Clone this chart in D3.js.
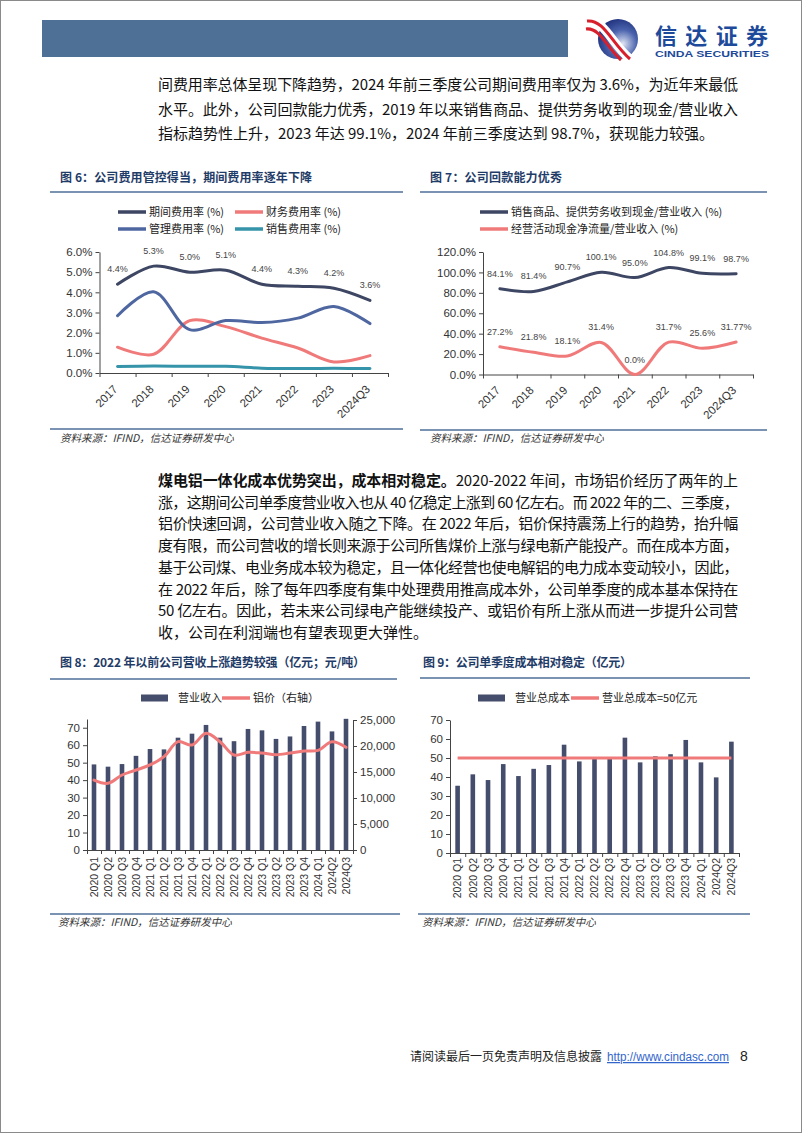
<!DOCTYPE html>
<html>
<head>
<meta charset="utf-8">
<script src="https://cdn.jsdelivr.net/npm/d3@7"></script>
<style>
body { margin: 0; background: #fff; }
svg { display: block; font-family: "Liberation Sans", Arial, "Noto Sans CJK SC", sans-serif; }
.cn { font-family: "Noto Sans CJK SC", sans-serif; }
</style>
</head>
<body>
<svg width="802" height="1133"></svg>
<script>
// ---- data ----
var years = ['2017', '2018', '2019', '2020', '2021', '2022', '2023', '2024Q3'];
var periodRate = [4.4, 5.3, 5.0, 5.1, 4.4, 4.3, 4.2, 3.6];
var financeRate = [1.28, 0.93, 2.6, 2.3, 1.73, 1.24, 0.55, 0.86];
var mgmtRate = [2.84, 4.03, 2.15, 2.6, 2.5, 2.72, 3.3, 2.45];
var salesRate = [0.32, 0.35, 0.33, 0.33, 0.24, 0.22, 0.23, 0.22];
var periodLabels = ['4.4%', '5.3%', '5.0%', '5.1%', '4.4%', '4.3%', '4.2%', '3.6%'];

var cashRatio = [84.1, 81.4, 90.7, 100.1, 95.0, 104.8, 99.1, 98.7];
var opCashRatio = [27.2, 21.8, 18.1, 31.4, 0.0, 31.7, 25.6, 31.77];
var cashLabels = ['84.1%', '81.4%', '90.7%', '100.1%', '95.0%', '104.8%', '99.1%', '98.7%'];
var opCashLabels = ['27.2%', '21.8%', '18.1%', '31.4%', '0.0%', '31.7%', '25.6%', '31.77%'];

var quarters = ['2020 Q1', '2020 Q2', '2020 Q3', '2020 Q4', '2021 Q1', '2021 Q2', '2021 Q3', '2021 Q4',
  '2022 Q1', '2022 Q2', '2022 Q3', '2022 Q4', '2023 Q1', '2023 Q2', '2023 Q3', '2023 Q4',
  '2024 Q1', '2024Q2', '2024Q3'];
var revenue = [49.0, 47.7, 49.2, 53.9, 57.8, 57.6, 64.3, 66.6, 71.6, 64.3, 62.3, 69.3, 68.5, 63.6, 65.0, 71.0, 73.5, 67.9, 75.1];
var alPrice = [13460, 12820, 14420, 15380, 16350, 17950, 20830, 20190, 22440, 20830, 18270, 18780, 18650, 18330, 18650, 19040, 19170, 20830, 19740];
var totalCost = [35.4, 41.4, 38.4, 46.8, 40.5, 44.3, 46.3, 57.0, 48.2, 49.5, 49.5, 60.7, 47.7, 50.9, 52.0, 59.5, 47.7, 39.8, 58.6];
var costRef = 50;

var topText = [
  '间费用率总体呈现下降趋势，2024 年前三季度公司期间费用率仅为 3.6%，为近年来最低',
  '水平。此外，公司回款能力优秀，2019 年以来销售商品、提供劳务收到的现金/营业收入',
  '指标趋势性上升，2023 年达 99.1%，2024 年前三季度达到 98.7%，获现能力较强。'
];
var midBold = '煤电铝一体化成本优势突出，成本相对稳定。';
var midText = [
  '2020-2022 年间，市场铝价经历了两年的上',
  '涨，这期间公司单季度营业收入也从 40 亿稳定上涨到 60 亿左右。而 2022 年的二、三季度，',
  '铝价快速回调，公司营业收入随之下降。在 2022 年后，铝价保持震荡上行的趋势，抬升幅',
  '度有限，而公司营收的增长则来源于公司所售煤价上涨与绿电新产能投产。而在成本方面，',
  '基于公司煤、电业务成本较为稳定，且一体化经营也使电解铝的电力成本变动较小，因此，',
  '在 2022 年后，除了每年四季度有集中处理费用推高成本外，公司单季度的成本基本保持在',
  '50 亿左右。因此，若未来公司绿电产能继续投产、或铝价有所上涨从而进一步提升公司营',
  '收，公司在利润端也有望表现更大弹性。'
];

var navy = '#3d4663', pink = '#f07a7a', blue = '#4f67a0', teal = '#3594a9', barColor = '#444d6b';
var titleColor = '#1f3c68', ruleColor = '#4e6f98';

var svg = d3.select('svg');

// page frame + header
svg.append('rect').attr('x', 0.5).attr('y', 0.5).attr('width', 801).attr('height', 1132)
  .attr('fill', '#fff').attr('stroke', '#8a8a8a');
svg.append('rect').attr('x', 42).attr('y', 20).attr('width', 526).attr('height', 37).attr('fill', '#4e7097');

var defs = svg.append('defs');
var grad = defs.append('radialGradient').attr('id', 'ball').attr('cx', '62%').attr('cy', '62%').attr('r', '70%');
grad.append('stop').attr('offset', '0%').attr('stop-color', '#dfe5f3');
grad.append('stop').attr('offset', '50%').attr('stop-color', '#4a63ad');
grad.append('stop').attr('offset', '100%').attr('stop-color', '#1b2c78');
svg.append('circle').attr('cx', 618).attr('cy', 39).attr('r', 20).attr('fill', 'url(#ball)');
svg.append('path').attr('d', 'M587,21 C604,19 612,44 630,59').attr('fill', 'none').attr('stroke', '#fff').attr('stroke-width', 9);
svg.append('path').attr('d', 'M587,21 C604,19 612,44 630,59').attr('fill', 'none').attr('stroke', '#d81f2c').attr('stroke-width', 3);
svg.append('path').attr('d', 'M586,29 C600,27 607,48 621,60').attr('fill', 'none').attr('stroke', '#d81f2c').attr('stroke-width', 3);
svg.append('text').attr('class', 'cn').attr('x', 655).attr('y', 44).attr('font-size', 22).attr('font-weight', 700)
  .attr('fill', '#1d4a9a').attr('textLength', 113).text('信达证券');
svg.append('text').attr('x', 655).attr('y', 57).attr('font-size', 9).attr('font-weight', 700)
  .attr('fill', '#1d4a9a').attr('textLength', 114).attr('lengthAdjust', 'spacingAndGlyphs').text('CINDA SECURITIES');

// ---- paragraphs ----
function justify(t, w) {
  var len = t.node().getComputedTextLength();
  var n = t.text().length;
  t.attr('letter-spacing', (w - len) / n);
}
topText.forEach(function (s, i) {
  var t = svg.append('text').attr('class', 'cn').attr('x', 158).attr('y', 90 + i * 24.5)
    .attr('font-size', 15).attr('fill', '#111').text(s);
  if (i < topText.length - 1) justify(t, 580);
});
midText.forEach(function (s, i) {
  var t = svg.append('text').attr('class', 'cn').attr('x', 158).attr('y', 486 + i * 21.7)
    .attr('font-size', 15).attr('fill', '#111');
  if (i === 0) t.append('tspan').attr('font-weight', 700).text(midBold);
  t.append('tspan').text(s);
  if (i < midText.length - 1) justify(t, 580);
});

// ---- frame pieces ----
function title(x, y, s, w) {
  svg.append('text').attr('class', 'cn').attr('x', x).attr('y', y + 4).attr('font-size', 12)
    .attr('font-weight', 700).attr('fill', titleColor).attr('textLength', w).text(s);
}
function rule(x1, x2, y) {
  svg.append('line').attr('x1', x1).attr('x2', x2).attr('y1', y).attr('y2', y)
    .attr('stroke', ruleColor).attr('stroke-width', 1.5);
}
function source(x, y) {
  svg.append('text').attr('class', 'cn').attr('x', x).attr('y', y + 4).attr('font-size', 10.5)
    .attr('font-style', 'italic').attr('fill', '#333').text('资料来源：IFIND，信达证券研发中心');
}
title(60, 178, '图 6：公司费用管控得当，期间费用率逐年下降', 252);
title(430, 178, '图 7：公司回款能力优秀', 132);
title(60, 663, '图 8：2022 年以前公司营收上涨趋势较强（亿元；元/吨）', 305);
title(423, 663, '图 9：公司单季度成本相对稳定（亿元）', 209);
rule(50, 403, 192); rule(420, 767, 192); rule(50, 397, 679); rule(420, 750, 678);
rule(50, 403, 429); rule(420, 767, 430); rule(50, 400, 914); rule(418, 750, 914);
source(60, 438); source(430, 438); source(58, 922); source(422, 922);

// ---- helpers ----
function styleAxis(g) {
  g.attr('font-family', '"Liberation Sans", Arial, sans-serif').attr('font-size', 11.5);
  g.selectAll('.domain').attr('stroke', '#444');
  g.selectAll('.tick line').attr('stroke', '#444');
  g.selectAll('.tick text').attr('fill', '#333');
}
function bandTicks(scale, y) {
  var n = scale.domain().length;
  var lin = d3.scaleLinear().domain([0, n]).range(scale.range());
  svg.append('g').attr('transform', 'translate(0,' + y + ')')
    .call(d3.axisBottom(lin).tickValues(d3.range(n + 1)).tickFormat('').tickSize(4).tickSizeOuter(0))
    .call(styleAxis);
}
function legendLine(x, y, color, label) {
  svg.append('line').attr('x1', x).attr('x2', x + 28).attr('y1', y).attr('y2', y)
    .attr('stroke', color).attr('stroke-width', 3.5);
  svg.append('text').attr('class', 'cn').attr('x', x + 31).attr('y', y + 4).attr('font-size', 11)
    .attr('fill', '#222').text(label);
}
function legendBox(x, y, label) {
  svg.append('rect').attr('x', x).attr('y', y - 3.5).attr('width', 27).attr('height', 7).attr('fill', barColor);
  svg.append('text').attr('class', 'cn').attr('x', x + 37).attr('y', y + 4).attr('font-size', 11)
    .attr('fill', '#222').text(label);
}
function drawLine(xs, ys, cats, vals, color) {
  var ln = d3.line()
    .x(function (d, i) { return xs(cats[i]) + xs.bandwidth() / 2; })
    .y(function (d) { return ys(d); })
    .curve(d3.curveCatmullRom.alpha(0.5));
  svg.append('path').attr('d', ln(vals)).attr('fill', 'none').attr('stroke', color)
    .attr('stroke-width', 3).attr('stroke-linecap', 'round');
}
function valueLabels(xs, ys, cats, vals, labels) {
  svg.append('g').selectAll('text').data(vals).enter().append('text')
    .attr('x', function (d, i) { return xs(cats[i]) + xs.bandwidth() / 2; })
    .attr('y', function (d) { return ys(d) - 12; })
    .attr('text-anchor', 'middle').attr('font-size', 9).attr('fill', '#444')
    .text(function (d, i) { return labels[i]; });
}
function slantLabels(xs, cats, y) {
  svg.append('g').selectAll('text').data(cats).enter().append('text')
    .attr('transform', function (d) { return 'translate(' + (xs(d) + xs.bandwidth() / 2 - 2) + ',' + y + ') rotate(-45)'; })
    .attr('text-anchor', 'end').attr('dy', '0.35em').attr('font-size', 11.5).attr('fill', '#333')
    .text(function (d) { return d; });
}
function upLabels(xs, cats, y) {
  svg.append('g').selectAll('text').data(cats).enter().append('text')
    .attr('transform', function (d) { return 'translate(' + (xs(d) + xs.bandwidth() / 2) + ',' + y + ') rotate(-90)'; })
    .attr('text-anchor', 'end').attr('dy', '0.35em').attr('font-size', 10.5).attr('fill', '#333')
    .text(function (d) { return d; });
}

// ---- chart 6 ----
legendLine(118, 212, navy, '期间费用率 (%)');
legendLine(235, 212, pink, '财务费用率 (%)');
legendLine(118, 229, blue, '管理费用率 (%)');
legendLine(235, 229, teal, '销售费用率 (%)');
var x6 = d3.scaleBand().domain(years).range([99.5, 388]);
var y6 = d3.scaleLinear().domain([0, 6]).range([373, 252]);
svg.append('g').attr('transform', 'translate(99.5,0)')
  .call(d3.axisLeft(y6).ticks(6).tickFormat(function (d) { return d.toFixed(1) + '%'; }).tickSize(4).tickSizeOuter(0))
  .call(styleAxis);
bandTicks(x6, 373);
drawLine(x6, y6, years, periodRate, navy);
drawLine(x6, y6, years, financeRate, pink);
drawLine(x6, y6, years, mgmtRate, blue);
drawLine(x6, y6, years, salesRate, teal);
valueLabels(x6, y6, years, periodRate, periodLabels);
slantLabels(x6, years, 387);

// ---- chart 7 ----
legendLine(480, 212, navy, '销售商品、提供劳务收到现金/营业收入 (%)');
legendLine(480, 229, pink, '经营活动现金净流量/营业收入 (%)');
var x7 = d3.scaleBand().domain(years).range([483, 753]);
var y7 = d3.scaleLinear().domain([0, 120]).range([374.5, 252]);
svg.append('g').attr('transform', 'translate(483,0)')
  .call(d3.axisLeft(y7).ticks(6).tickFormat(function (d) { return d.toFixed(1) + '%'; }).tickSize(4).tickSizeOuter(0))
  .call(styleAxis);
bandTicks(x7, 374.5);
drawLine(x7, y7, years, cashRatio, navy);
drawLine(x7, y7, years, opCashRatio, pink);
valueLabels(x7, y7, years, cashRatio, cashLabels);
valueLabels(x7, y7, years, opCashRatio, opCashLabels);
slantLabels(x7, years, 388);

// ---- chart 8 ----
legendBox(141, 698, '营业收入');
legendLine(222, 698, pink, '铝价（右轴）');
var x8 = d3.scaleBand().domain(quarters).range([87, 353]);
var y8 = d3.scaleLinear().domain([0, 75]).range([850, 719]);
var y8r = d3.scaleLinear().domain([0, 25000]).range([850, 720]);
svg.append('g').attr('transform', 'translate(87,0)')
  .call(d3.axisLeft(y8).tickValues(d3.range(0, 71, 10)).tickSize(4).tickSizeOuter(0))
  .call(styleAxis);
svg.append('g').attr('transform', 'translate(353,0)')
  .call(d3.axisRight(y8r).ticks(5).tickFormat(d3.format(',')).tickSize(4).tickSizeOuter(0))
  .call(styleAxis);
svg.append('g').selectAll('rect').data(revenue).enter().append('rect')
  .attr('x', function (d, i) { return x8(quarters[i]) + x8.bandwidth() / 2 - 2.3; })
  .attr('width', 4.6)
  .attr('y', function (d) { return y8(d); })
  .attr('height', function (d) { return y8(0) - y8(d); })
  .attr('fill', barColor);
bandTicks(x8, 850);
drawLine(x8, y8r, quarters, alPrice, pink);
upLabels(x8, quarters, 857);

// ---- chart 9 ----
legendBox(478, 698, '营业总成本');
legendLine(571, 698, pink, '营业总成本=50亿元');
var x9 = d3.scaleBand().domain(quarters).range([450, 739]);
var y9 = d3.scaleLinear().domain([0, 70]).range([853, 720]);
svg.append('g').attr('transform', 'translate(450,0)')
  .call(d3.axisLeft(y9).ticks(7).tickSize(4).tickSizeOuter(0))
  .call(styleAxis);
svg.append('g').selectAll('rect').data(totalCost).enter().append('rect')
  .attr('x', function (d, i) { return x9(quarters[i]) + x9.bandwidth() / 2 - 2.3; })
  .attr('width', 4.6)
  .attr('y', function (d) { return y9(d); })
  .attr('height', function (d) { return y9(0) - y9(d); })
  .attr('fill', barColor);
bandTicks(x9, 853);
svg.append('line')
  .attr('x1', x9(quarters[0]) + x9.bandwidth() / 2)
  .attr('x2', x9(quarters[quarters.length - 1]) + x9.bandwidth() / 2)
  .attr('y1', y9(costRef)).attr('y2', y9(costRef))
  .attr('stroke', pink).attr('stroke-width', 3);
upLabels(x9, quarters, 858);

// ---- footer ----
svg.append('text').attr('class', 'cn').attr('x', 410).attr('y', 1061).attr('font-size', 12)
  .attr('fill', '#222').text('请阅读最后一页免责声明及信息披露');
svg.append('text').attr('x', 607).attr('y', 1061).attr('font-size', 12.5).attr('fill', '#3366cc')
  .attr('textLength', 122).attr('lengthAdjust', 'spacingAndGlyphs')
  .attr('text-decoration', 'underline').text('http://www.cindasc.com');
svg.append('text').attr('x', 740).attr('y', 1061).attr('font-size', 14).attr('fill', '#222').text('8');
</script>
</body>
</html>
